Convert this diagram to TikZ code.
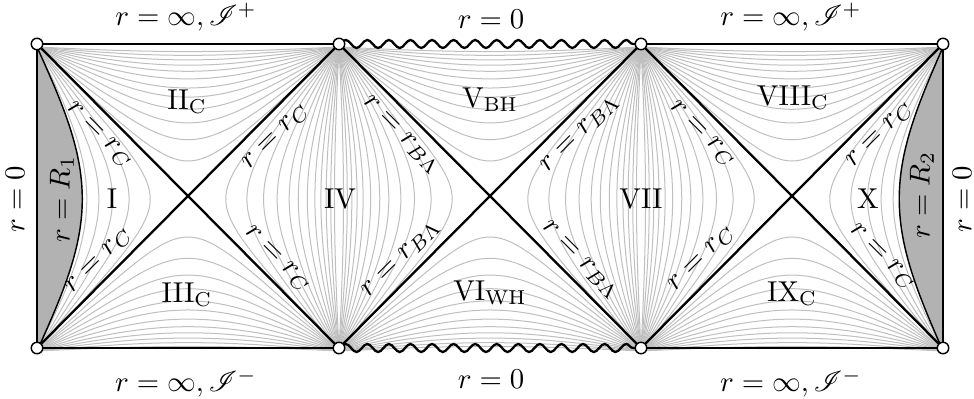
\documentclass[tikz,border=0pt]{standalone}
\usepackage{mathrsfs}
\usetikzlibrary{decorations.pathmorphing}
\newcommand\confcurves[1]{%
 \foreach \d in {0.75,0.61,0.50,0.41,0.33,0.27,0.21,0.16,0.12,0.085,0.055,0.03}{%
  \pgfmathsetmacro\kk{tan(45*(1-\d))}%
  \draw[conf] plot[domain=-7:7,samples=61,variable=\t,smooth]
    ({#1+151*(atan(\kk*exp(\t))+atan(\kk*exp(-(\t))))/90},{199+152*(atan(\kk*exp(\t))-atan(\kk*exp(-(\t))))/90});
  \draw[conf] plot[domain=-7:7,samples=61,variable=\t,smooth]
    ({#1-151*(atan(\kk*exp(\t))+atan(\kk*exp(-(\t))))/90},{199+152*(atan(\kk*exp(\t))-atan(\kk*exp(-(\t))))/90});
  \draw[conf] plot[domain=-7:7,samples=61,variable=\t,smooth]
    ({#1+151*(atan(\kk*exp(\t))-atan(\kk*exp(-(\t))))/90},{199+152*(atan(\kk*exp(\t))+atan(\kk*exp(-(\t))))/90});
  \draw[conf] plot[domain=-7:7,samples=61,variable=\t,smooth]
    ({#1+151*(atan(\kk*exp(\t))-atan(\kk*exp(-(\t))))/90},{199-152*(atan(\kk*exp(\t))+atan(\kk*exp(-(\t))))/90});
 }}
\begin{document}
\begin{tikzpicture}[x=0.348pt,y=0.348pt,
  conf/.style={gray!50, line width=0.35pt},
  edge/.style={line width=0.8pt},
  sing/.style={line width=0.8pt, decorate, decoration={snake, amplitude=1.4pt, segment length=7.507pt}},
  corner/.style={circle, draw=black, fill=white, line width=0.5pt, inner sep=0pt, minimum size=4pt},
  shade/.style={fill=gray!60},
  lbl/.style={inner sep=1pt}
]
\path[use as bounding box] (0,0) rectangle (974,398);
% corners
\coordinate (A0) at (37,354);
\coordinate (A1) at (339,354);
\coordinate (A2) at (641,354);
\coordinate (A3) at (943,354);
\coordinate (B0) at (37,50);
\coordinate (B1) at (339,50);
\coordinate (B2) at (641,50);
\coordinate (B3) at (943,50);
% constant-r curves
\confcurves{188}
\confcurves{490}
\confcurves{792}
% shaded star interiors
\pgfmathsetmacro\kA{tan(45*(1-0.30))}
\pgfmathsetmacro\kB{tan(45*(1-0.29))}
\fill[shade] plot[domain=-7:7,samples=81,variable=\t,smooth]
  ({188-151*(atan(\kA*exp(\t))+atan(\kA*exp(-(\t))))/90},{199+152*(atan(\kA*exp(\t))-atan(\kA*exp(-(\t))))/90}) -- cycle;
\draw[line width=0.5pt] plot[domain=-7:7,samples=81,variable=\t,smooth]
  ({188-151*(atan(\kA*exp(\t))+atan(\kA*exp(-(\t))))/90},{199+152*(atan(\kA*exp(\t))-atan(\kA*exp(-(\t))))/90});
\fill[shade] plot[domain=-7:7,samples=81,variable=\t,smooth]
  ({792+151*(atan(\kB*exp(\t))+atan(\kB*exp(-(\t))))/90},{199+152*(atan(\kB*exp(\t))-atan(\kB*exp(-(\t))))/90}) -- cycle;
\draw[line width=0.5pt] plot[domain=-7:7,samples=81,variable=\t,smooth]
  ({792+151*(atan(\kB*exp(\t))+atan(\kB*exp(-(\t))))/90},{199+152*(atan(\kB*exp(\t))-atan(\kB*exp(-(\t))))/90});
% boundaries
\draw[edge] (A0) -- (A1);
\draw[edge] (A2) -- (A3);
\draw[edge] (B0) -- (B1);
\draw[edge] (B2) -- (B3);
\draw[edge] (A0) -- (B0);
\draw[edge] (A3) -- (B3);
% horizons
\draw[edge] (A0) -- (B1);
\draw[edge] (B0) -- (A1);
\draw[edge] (A1) -- (B2);
\draw[edge] (B1) -- (A2);
\draw[edge] (A2) -- (B3);
\draw[edge] (B2) -- (A3);
% singularities
\draw[sing] (A1) -- (A2);
\draw[sing] (B1) -- (B2);
% corner points
\foreach \c in {A0,A1,A2,A3,B0,B1,B2,B3}{\node[corner] (n\c) at (\c) {};}
% boundary labels
\node[lbl] (tl) at (186,381) {$r=\infty,\mathscr{I}^+$};
\node[lbl] (tm) at (491,379) {$r=0$};
\node[lbl] (tr) at (791,381) {$r=\infty,\mathscr{I}^+$};
\node[lbl] (bl) at (186,15) {$r=\infty,\mathscr{I}^-$};
\node[lbl] (bm) at (491,19) {$r=0$};
\node[lbl] (br) at (791,15) {$r=\infty,\mathscr{I}^-$};
\node[lbl,rotate=90] (ll) at (15,199) {$r=0$};
\node[lbl,rotate=90] (rr) at (962,199) {$r=0$};
\node[lbl,rotate=90] (R1) at (62,199) {$r=R_1$};
\node[lbl,rotate=90] (R2) at (922,203) {$r=R_2$};
% region labels
\node[lbl] (I) at (112,199) {I};
\node[lbl] (II) at (187,296) {II$_\mathrm{C}$};
\node[lbl] (III) at (187,103) {III$_\mathrm{C}$};
\node[lbl] (IV) at (340,199) {IV};
\node[lbl] (V) at (490,298) {V$_\mathrm{BH}$};
\node[lbl] (VI) at (490,105) {VI$_\mathrm{WH}$};
\node[lbl] (VII) at (641,199) {VII};
\node[lbl] (VIII) at (793,300) {VIII$_\mathrm{C}$};
\node[lbl] (IX) at (792,104) {IX$_\mathrm{C}$};
\node[lbl] (X) at (868,199) {X};
% horizon labels
\node[lbl,rotate=-45] (h1) at (99,263) {$r=r_C$};
\node[lbl,rotate=45] (h2) at (99,137) {$r=r_C$};
\node[lbl,rotate=45] (h3) at (276,261) {$r=r_C$};
\node[lbl,rotate=-45] (h4) at (277,139) {$r=r_C$};
\node[lbl,rotate=-45] (h5) at (401,263) {$r=r_{B\Lambda}$};
\node[lbl,rotate=45] (h6) at (401,139) {$r=r_{B\Lambda}$};
\node[lbl,rotate=45] (h7) at (580,264) {$r=r_{B\Lambda}$};
\node[lbl,rotate=-45] (h8) at (580,138) {$r=r_{B\Lambda}$};
\node[lbl,rotate=-45] (h9) at (702,264) {$r=r_C$};
\node[lbl,rotate=45] (h10) at (702,139) {$r=r_C$};
\node[lbl,rotate=45] (h11) at (880,263) {$r=r_C$};
\node[lbl,rotate=-45] (h12) at (882,141) {$r=r_C$};
\end{tikzpicture}
\end{document}
